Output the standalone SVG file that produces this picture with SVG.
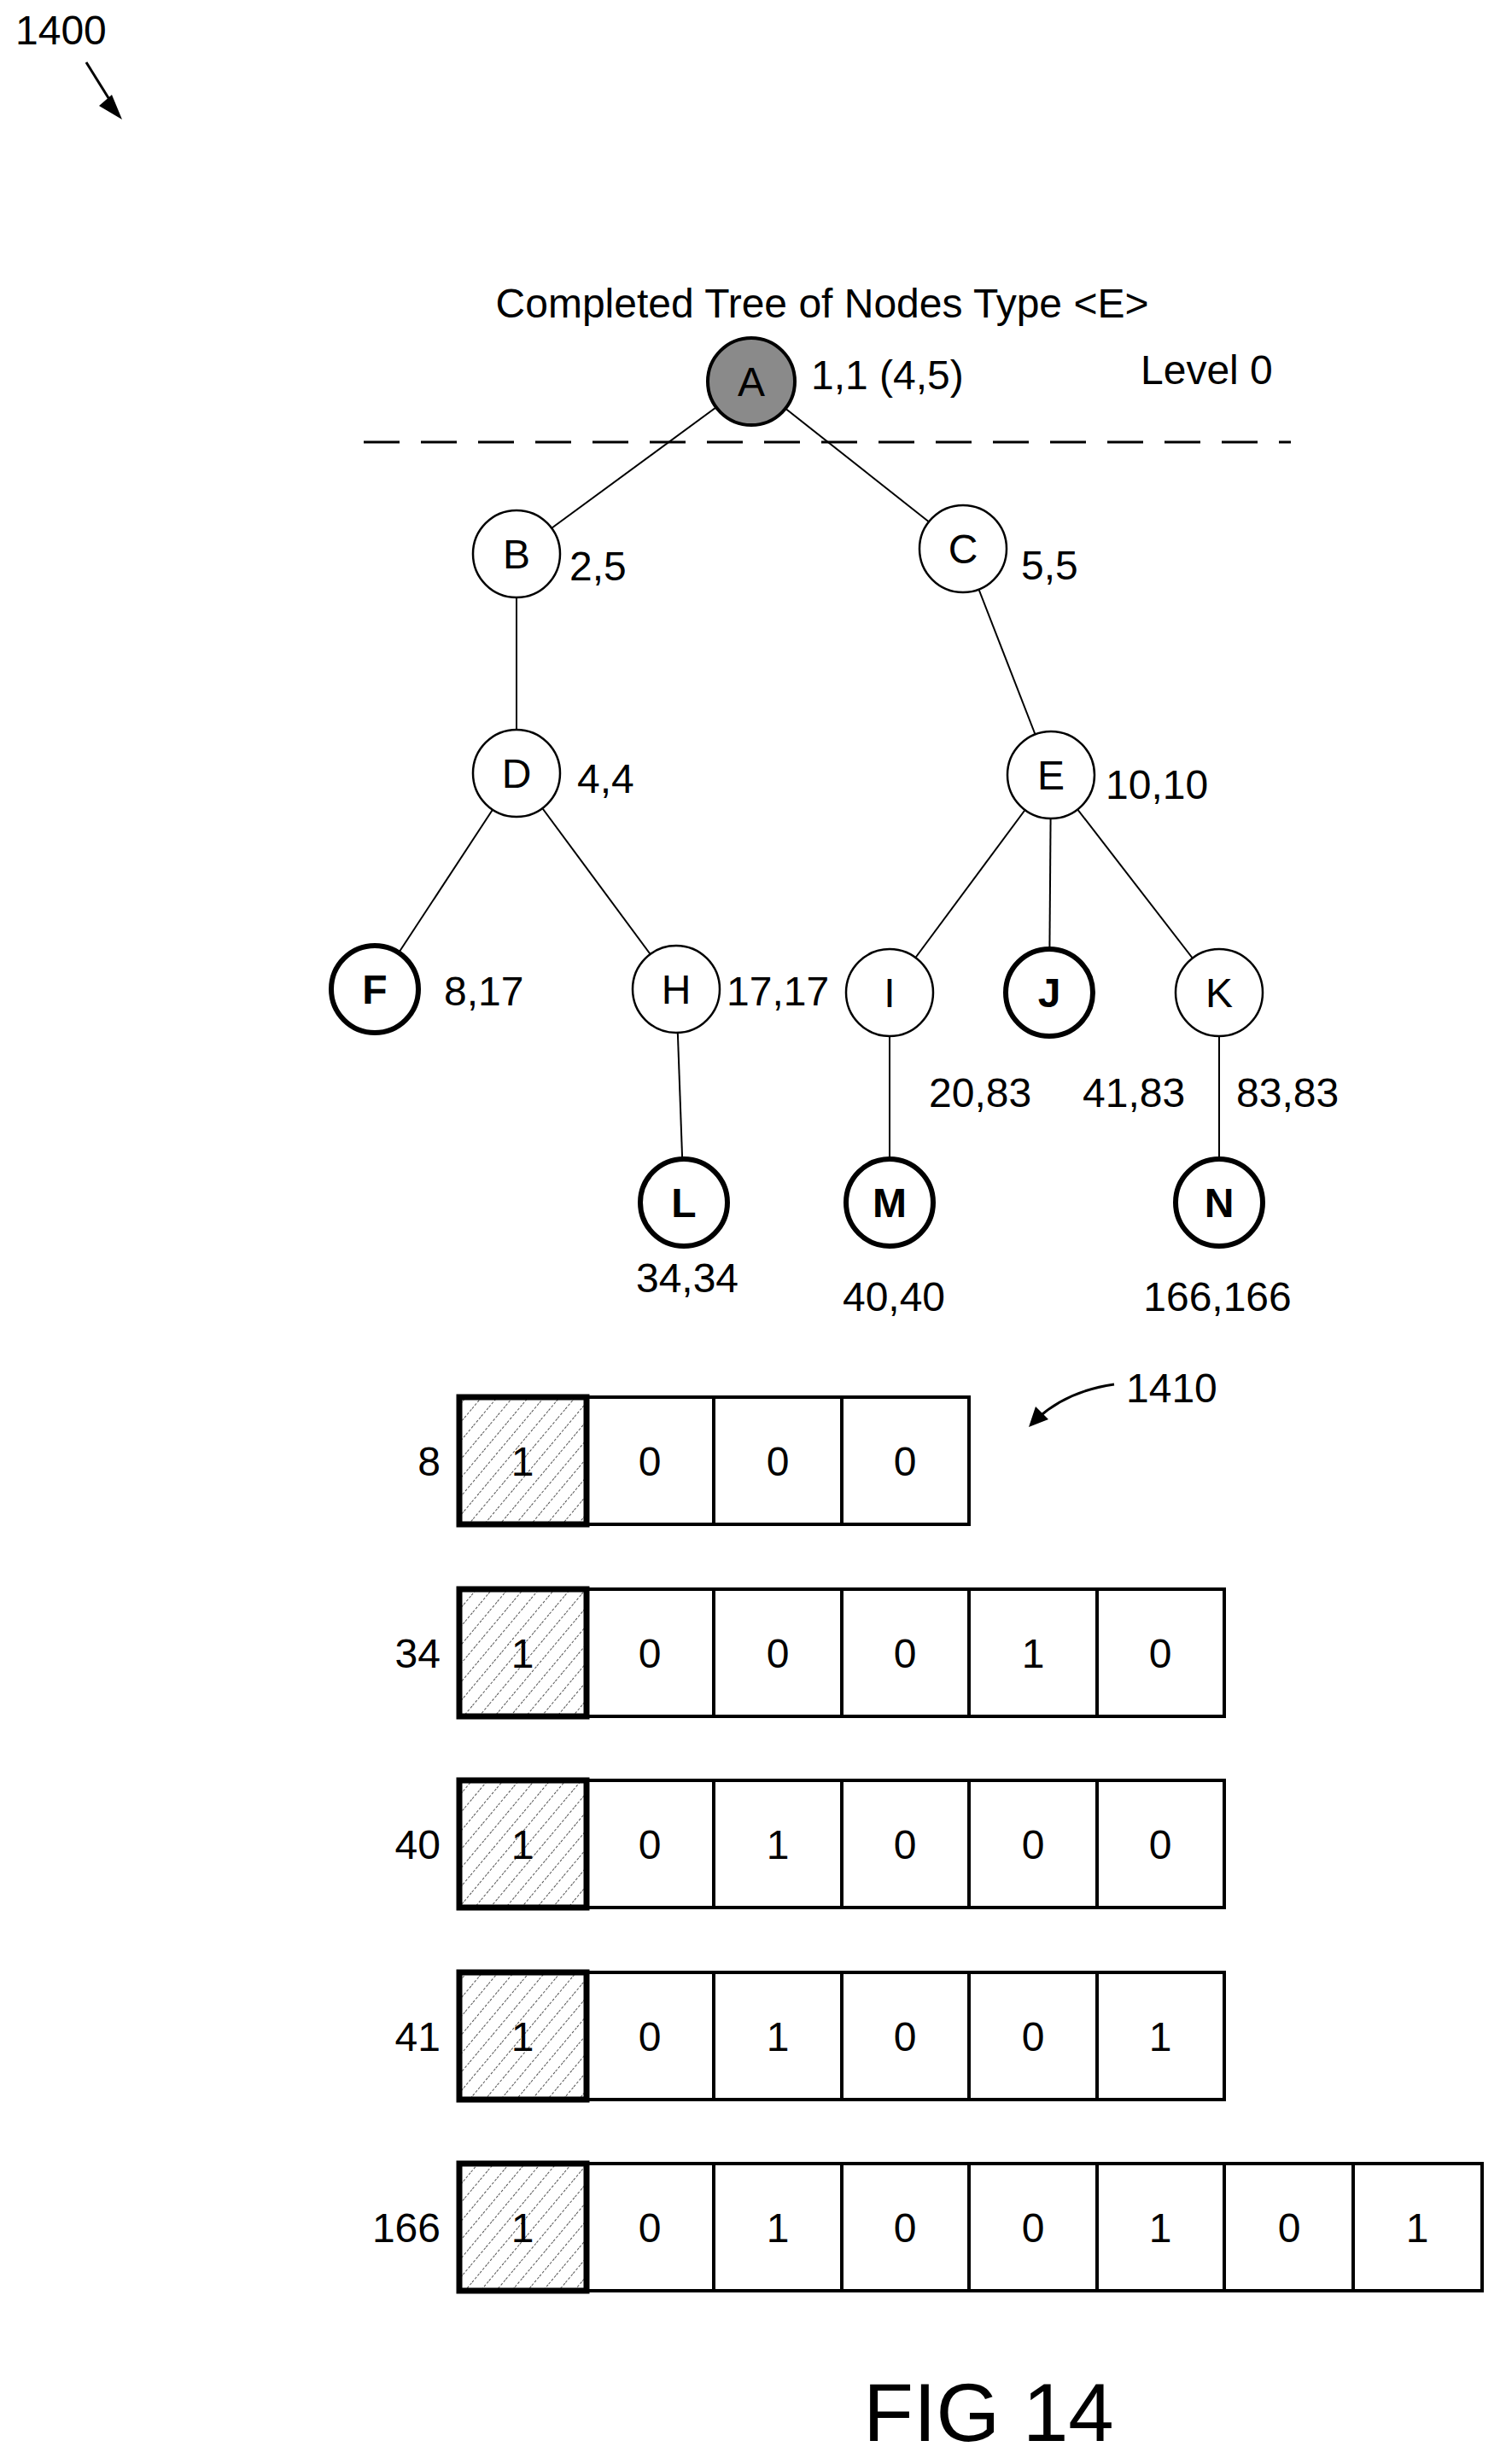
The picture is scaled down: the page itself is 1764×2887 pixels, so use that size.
<svg xmlns="http://www.w3.org/2000/svg" width="1764" height="2887" viewBox="0 0 1764 2887">
<style>
text{font-family:"Liberation Sans",Arial,sans-serif;font-size:48px;fill:#000}
.c{text-anchor:middle}
.n{fill:#fff;stroke:#000;stroke-width:2.5}
.nb{fill:#fff;stroke:#000;stroke-width:6}
.b{font-weight:bold}
.e{stroke:#000;stroke-width:2;fill:none}
.cell{fill:#fff;stroke:#000;stroke-width:4}
.first{fill:url(#hatch);stroke:#000;stroke-width:7}
</style>
<defs>
<pattern id="hatch" width="14" height="14" patternUnits="userSpaceOnUse" patternTransform="rotate(40)">
<rect width="14" height="14" fill="#fff"/>
<line x1="0" y1="0" x2="0" y2="14" stroke="#555" stroke-width="2" stroke-dasharray="3,2"/>
</pattern>
</defs>
<text x="18" y="52">1400</text>
<line x1="101" y1="73" x2="134" y2="126" stroke="#000" stroke-width="3"/>
<path d="M116,124 L143,140 L131,111 z" fill="#000"/>
<text class="c" x="963" y="372">Completed Tree of Nodes Type &lt;E&gt;</text>
<line x1="426" y1="518" x2="1512" y2="518" stroke="#000" stroke-width="3" stroke-dasharray="42,25"/>
<text x="1336" y="450">Level 0</text>
<g id="connectors">
<line class="e" x1="880" y1="447" x2="605" y2="649"/>
<line class="e" x1="880" y1="447" x2="1128" y2="643"/>
<line class="e" x1="605" y1="649" x2="605" y2="906"/>
<line class="e" x1="1128" y1="643" x2="1231" y2="908"/>
<line class="e" x1="605" y1="906" x2="439" y2="1159"/>
<line class="e" x1="605" y1="906" x2="792" y2="1159"/>
<line class="e" x1="1231" y1="908" x2="1042" y2="1163"/>
<line class="e" x1="1231" y1="908" x2="1229" y2="1163"/>
<line class="e" x1="1231" y1="908" x2="1428" y2="1163"/>
<line class="e" x1="792" y1="1159" x2="801" y2="1409"/>
<line class="e" x1="1042" y1="1163" x2="1042" y2="1409"/>
<line class="e" x1="1428" y1="1163" x2="1428" y2="1409"/>
</g>
<g id="A"><circle cx="880" cy="447" r="51" fill="#8a8a8a" stroke="#000" stroke-width="4"/><text class="c" x="880" y="464">A</text><text x="950" y="456">1,1  (4,5)</text></g>
<g id="B"><circle class="n" cx="605" cy="649" r="51"/><text class="c" x="605" y="666">B</text><text x="667" y="680">2,5</text></g>
<g id="C"><circle class="n" cx="1128" cy="643" r="51"/><text class="c" x="1128" y="660">C</text><text x="1196" y="679">5,5</text></g>
<g id="D"><circle class="n" cx="605" cy="906" r="51"/><text class="c" x="605" y="923">D</text><text x="676" y="929">4,4</text></g>
<g id="E"><circle class="n" cx="1231" cy="908" r="51"/><text class="c" x="1231" y="925">E</text><text x="1295" y="936">10,10</text></g>
<g id="F"><circle class="nb" cx="439" cy="1159" r="51"/><text class="c b" x="439" y="1176">F</text><text x="520" y="1178">8,17</text></g>
<g id="H"><circle class="n" cx="792" cy="1159" r="51"/><text class="c" x="792" y="1176">H</text><text x="851" y="1178">17,17</text></g>
<g id="I"><circle class="n" cx="1042" cy="1163" r="51"/><text class="c" x="1042" y="1180">I</text><text x="1088" y="1297">20,83</text></g>
<g id="J"><circle class="nb" cx="1229" cy="1163" r="51"/><text class="c b" x="1229" y="1180">J</text></g>
<g id="K"><circle class="n" cx="1428" cy="1163" r="51"/><text class="c" x="1428" y="1180">K</text><text x="1268" y="1297">41,83</text><text x="1448" y="1297">83,83</text></g>
<g id="L"><circle class="nb" cx="801" cy="1409" r="51"/><text class="c b" x="801" y="1426">L</text><text class="c" x="805" y="1514">34,34</text></g>
<g id="M"><circle class="nb" cx="1042" cy="1409" r="51"/><text class="c b" x="1042" y="1426">M</text><text class="c" x="1047" y="1536">40,40</text></g>
<g id="N"><circle class="nb" cx="1428" cy="1409" r="51"/><text class="c b" x="1428" y="1426">N</text><text class="c" x="1426" y="1536">166,166</text></g>
<text x="1319" y="1643">1410</text>
<path d="M1305,1622 Q1250,1630 1215,1662" fill="none" stroke="#000" stroke-width="3"/>
<path d="M1205,1672 L1213,1648 L1228,1663 z" fill="#000"/>
<g id="row8">
<text x="516" y="1729" text-anchor="end">8</text>
<rect class="cell" x="687" y="1637" width="448" height="149"/>
<line x1="836" y1="1637" x2="836" y2="1786" stroke="#000" stroke-width="4"/><line x1="986" y1="1637" x2="986" y2="1786" stroke="#000" stroke-width="4"/>
<rect class="first" x="538" y="1637" width="149" height="149"/>
<text class="c" x="612" y="1729">1</text><text class="c" x="761" y="1729">0</text><text class="c" x="911" y="1729">0</text><text class="c" x="1060" y="1729">0</text>
</g>
<g id="row34">
<text x="516" y="1954" text-anchor="end">34</text>
<rect class="cell" x="687" y="1862" width="747" height="149"/>
<line x1="836" y1="1862" x2="836" y2="2011" stroke="#000" stroke-width="4"/><line x1="986" y1="1862" x2="986" y2="2011" stroke="#000" stroke-width="4"/><line x1="1135" y1="1862" x2="1135" y2="2011" stroke="#000" stroke-width="4"/><line x1="1285" y1="1862" x2="1285" y2="2011" stroke="#000" stroke-width="4"/>
<rect class="first" x="538" y="1862" width="149" height="149"/>
<text class="c" x="612" y="1954">1</text><text class="c" x="761" y="1954">0</text><text class="c" x="911" y="1954">0</text><text class="c" x="1060" y="1954">0</text><text class="c" x="1210" y="1954">1</text><text class="c" x="1359" y="1954">0</text>
</g>
<g id="row40">
<text x="516" y="2178" text-anchor="end">40</text>
<rect class="cell" x="687" y="2086" width="747" height="149"/>
<line x1="836" y1="2086" x2="836" y2="2235" stroke="#000" stroke-width="4"/><line x1="986" y1="2086" x2="986" y2="2235" stroke="#000" stroke-width="4"/><line x1="1135" y1="2086" x2="1135" y2="2235" stroke="#000" stroke-width="4"/><line x1="1285" y1="2086" x2="1285" y2="2235" stroke="#000" stroke-width="4"/>
<rect class="first" x="538" y="2086" width="149" height="149"/>
<text class="c" x="612" y="2178">1</text><text class="c" x="761" y="2178">0</text><text class="c" x="911" y="2178">1</text><text class="c" x="1060" y="2178">0</text><text class="c" x="1210" y="2178">0</text><text class="c" x="1359" y="2178">0</text>
</g>
<g id="row41">
<text x="516" y="2403" text-anchor="end">41</text>
<rect class="cell" x="687" y="2311" width="747" height="149"/>
<line x1="836" y1="2311" x2="836" y2="2460" stroke="#000" stroke-width="4"/><line x1="986" y1="2311" x2="986" y2="2460" stroke="#000" stroke-width="4"/><line x1="1135" y1="2311" x2="1135" y2="2460" stroke="#000" stroke-width="4"/><line x1="1285" y1="2311" x2="1285" y2="2460" stroke="#000" stroke-width="4"/>
<rect class="first" x="538" y="2311" width="149" height="149"/>
<text class="c" x="612" y="2403">1</text><text class="c" x="761" y="2403">0</text><text class="c" x="911" y="2403">1</text><text class="c" x="1060" y="2403">0</text><text class="c" x="1210" y="2403">0</text><text class="c" x="1359" y="2403">1</text>
</g>
<g id="row166">
<text x="516" y="2627" text-anchor="end">166</text>
<rect class="cell" x="687" y="2535" width="1049" height="149"/>
<line x1="836" y1="2535" x2="836" y2="2684" stroke="#000" stroke-width="4"/><line x1="986" y1="2535" x2="986" y2="2684" stroke="#000" stroke-width="4"/><line x1="1135" y1="2535" x2="1135" y2="2684" stroke="#000" stroke-width="4"/><line x1="1285" y1="2535" x2="1285" y2="2684" stroke="#000" stroke-width="4"/><line x1="1434" y1="2535" x2="1434" y2="2684" stroke="#000" stroke-width="4"/><line x1="1585" y1="2535" x2="1585" y2="2684" stroke="#000" stroke-width="4"/>
<rect class="first" x="538" y="2535" width="149" height="149"/>
<text class="c" x="612" y="2627">1</text><text class="c" x="761" y="2627">0</text><text class="c" x="911" y="2627">1</text><text class="c" x="1060" y="2627">0</text><text class="c" x="1210" y="2627">0</text><text class="c" x="1359" y="2627">1</text><text class="c" x="1510" y="2627">0</text><text class="c" x="1660" y="2627">1</text>
</g>
<text class="c" x="1158" y="2860" style="font-size:96px">FIG 14</text>
</svg>
